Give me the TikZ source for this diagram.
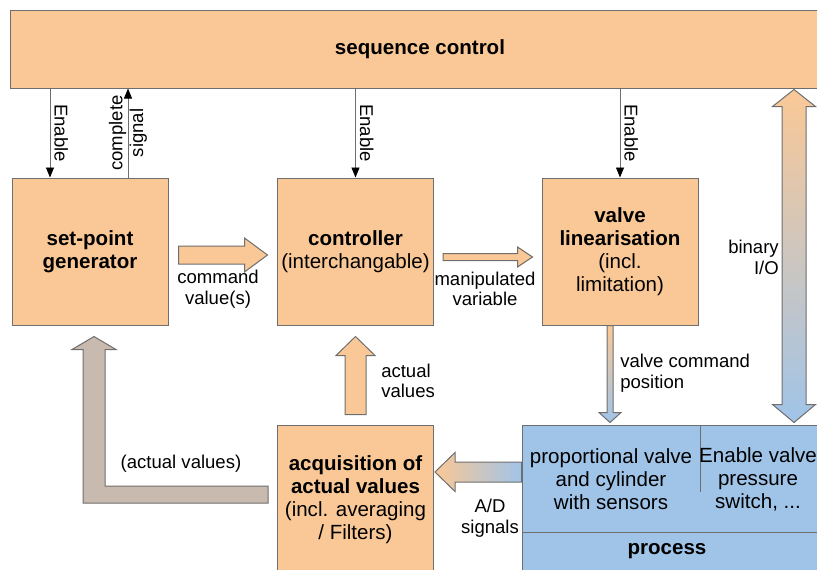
\documentclass[tikz,border=0pt]{standalone}
\usepackage{fontspec}
\setmainfont{Liberation Sans}
\usetikzlibrary{arrows.meta,calc}
\definecolor{orng}{RGB}{250,200,150}
\definecolor{blu}{RGB}{160,196,232}
\definecolor{gry}{RGB}{200,186,174}
\definecolor{lnc}{RGB}{110,110,110}

\begin{document}
\begin{tikzpicture}[x=0.75pt, y=-0.75pt,
  blk/.style={draw=lnc, fill=orng, line width=0.75pt, minimum width=117pt, minimum height=110.25pt, inner sep=0pt, align=center, font=\fontsize{15.4}{17.25}\selectfont},
  txt/.style={align=center, inner sep=0pt, font=\fontsize{15.4}{17.25}\selectfont},
  lbl/.style={align=center, inner sep=0pt, font=\fontsize{13.9}{15.5}\selectfont},
  sig/.style={draw=lnc, line width=0.6pt, -{Triangle[length=7.5pt,width=6pt,color=black]}},
  fat/.style={draw=lnc, line width=0.75pt}
]
  \useasboundingbox (0,0) rectangle (817,569);

  % blocks
  \node[blk, minimum width=615pt, minimum height=58.5pt] (seq) at (420,49) {\textbf{sequence control}};
  \node[blk] (sp)   at (90,251.5)    {\textbf{set-point}\\\textbf{generator}};
  \node[blk] (ctrl) at (355.5,251.5) {\textbf{controller}\\(interchangable)};
  \node[blk] (vl)   at (620,251.5)   {\textbf{valve}\\\textbf{linearisation}\\(incl.\\limitation)};
  \node[blk, minimum height=112.5pt] (acq) at (355.5,500) {\textbf{acquisition of}\\\textbf{actual values}\\(incl. averaging\\/ Filters)};

  % process
  \node[draw=lnc, fill=blu, line width=0.75pt, minimum width=231pt, minimum height=116.25pt] (proc) at (676,502.5) {};
  \draw[lnc, line width=0.75pt] (proc.west |- 0,532) -- (proc.east |- 0,532);
  \draw[lnc, line width=0.75pt] (700,425) -- (700,492);
  \node[txt] (pv)  at (611,479) {proportional valve\\and cylinder\\with sensors};
  \node[txt] (ev)  at (758,479) {Enable valve\\pressure\\switch, ...};
  \node[txt] (prc) at (667,551) {\textbf{process}};

  % enable / complete signals
  \coordinate (en1) at ($(sp.north)+(-40,0)$);
  \coordinate (cs)  at ($(sp.north)+(38,0)$);
  \draw[sig] (seq.south -| en1) -- (en1) node[midway, sloped, above=3pt, lbl] (lb1) {Enable};
  \draw[sig] (cs) -- (cs |- seq.south) node[midway, sloped, lbl] (lb2) {complete\\signal};
  \draw[sig] (seq.south -| ctrl.north) -- (ctrl.north) node[midway, sloped, above=3pt, lbl] (lb3) {Enable};
  \draw[sig] (seq.south -| vl.north) -- (vl.north) node[midway, sloped, above=3pt, lbl] (lb4) {Enable};

  % command value(s)
  \coordinate (cv0) at ($(sp.east)+(10,3.5)$);
  \coordinate (cv1) at ($(ctrl.west)+(-9.5,3.5)$);
  \draw[fat, fill=orng] ($(cv0)+(0,-9)$) -- ($(cv1)+(-23,-9)$) -- ($(cv1)+(-23,-17)$) -- (cv1)
    -- ($(cv1)+(-23,17)$) -- ($(cv1)+(-23,9)$) -- ($(cv0)+(0,9)$) -- cycle;
  \node[lbl] (lcv) at (218,289) {command\\value(s)};

  % manipulated variable
  \coordinate (mv0) at ($(ctrl.east)+(9,5.5)$);
  \coordinate (mv1) at ($(vl.west)+(-9,5.5)$);
  \draw[fat, fill=orng] ($(mv0)+(0,-3.5)$) -- ($(mv1)+(-15,-3.5)$) -- ($(mv1)+(-15,-10)$) -- (mv1)
    -- ($(mv1)+(-15,10)$) -- ($(mv1)+(-15,3.5)$) -- ($(mv0)+(0,3.5)$) -- cycle;
  \node[lbl] (lmv) at (485,289) {manipulated\\variable};

  % actual values
  \coordinate (av0) at ($(acq.north)+(0,-10)$);
  \coordinate (av1) at ($(ctrl.south)+(0,11)$);
  \draw[fat, fill=orng] ($(av0)+(-10.5,0)$) -- ($(av1)+(-10.5,19)$) -- ($(av1)+(-19.5,19)$) -- (av1)
    -- ($(av1)+(19.5,19)$) -- ($(av1)+(10.5,19)$) -- ($(av0)+(10.5,0)$) -- cycle;
  \node[lbl, align=left, anchor=west] (lav) at (381,381) {actual\\values};

  % (actual values) back to set-point
  \coordinate (al0) at ($(acq.west)+(-9,-5.5)$);
  \coordinate (al1) at ($(sp.south)+(4,11)$);
  \draw[fat, fill=gry] ($(al0)+(0,-8.5)$) -- ($(al1|-al0)+(11,-8.5)$) -- ($(al1)+(11,13)$) -- ($(al1)+(22,13)$) -- (al1)
    -- ($(al1)+(-22,13)$) -- ($(al1)+(-11,13)$) -- ($(al1|-al0)+(-11,8.5)$) -- ($(al0)+(0,8.5)$) -- cycle;
  \node[lbl] (lal) at (181,464) {(actual values)};

  % A/D signals
  \coordinate (ad0) at ($(proc.west |- acq.east)+(0,-28)$);
  \coordinate (ad1) at ($(acq.east)+(1,-28)$);
  \draw[fat, left color=orng, right color=blu] ($(ad0)+(0,-10)$) -- ($(ad1)+(20,-10)$) -- ($(ad1)+(20,-19.5)$) -- (ad1)
    -- ($(ad1)+(20,19.5)$) -- ($(ad1)+(20,10)$) -- ($(ad0)+(0,10)$) -- cycle;
  \node[lbl] (lad) at (490,518) {A/D\\signals};

  % valve command position
  \coordinate (vc0) at ($(vl.south)+(-10,0)$);
  \coordinate (vc1) at ($(vc0 |- proc.north)+(0,-2)$);
  \draw[fat, top color=orng, bottom color=blu] ($(vc0)+(-3,0)$) -- ($(vc1)+(-3,-10)$) -- ($(vc1)+(-11,-10)$) -- (vc1)
    -- ($(vc1)+(11,-10)$) -- ($(vc1)+(3,-10)$) -- ($(vc0)+(3,0)$) -- cycle;
  \node[lbl, align=left, anchor=west] (lvc) at (620,373) {valve command\\position};

  % binary I/O
  \coordinate (io1) at ($(proc.north)+(118,-2)$);
  \coordinate (io0) at ($(io1 |- seq.south)+(0,1)$);
  \draw[fat, top color=orng, bottom color=blu] (io0) -- ($(io0)+(21.5,17)$) -- ($(io0)+(12,17)$) -- ($(io1)+(12,-18)$)
    -- ($(io1)+(21.5,-18)$) -- (io1) -- ($(io1)+(-21.5,-18)$) -- ($(io1)+(-12,-18)$) -- ($(io0)+(-12,17)$)
    -- ($(io0)+(-21.5,17)$) -- cycle;
  \node[lbl, align=right, anchor=east] (lio) at (779,257.5) {binary\\I/O};
\end{tikzpicture}
\end{document}
